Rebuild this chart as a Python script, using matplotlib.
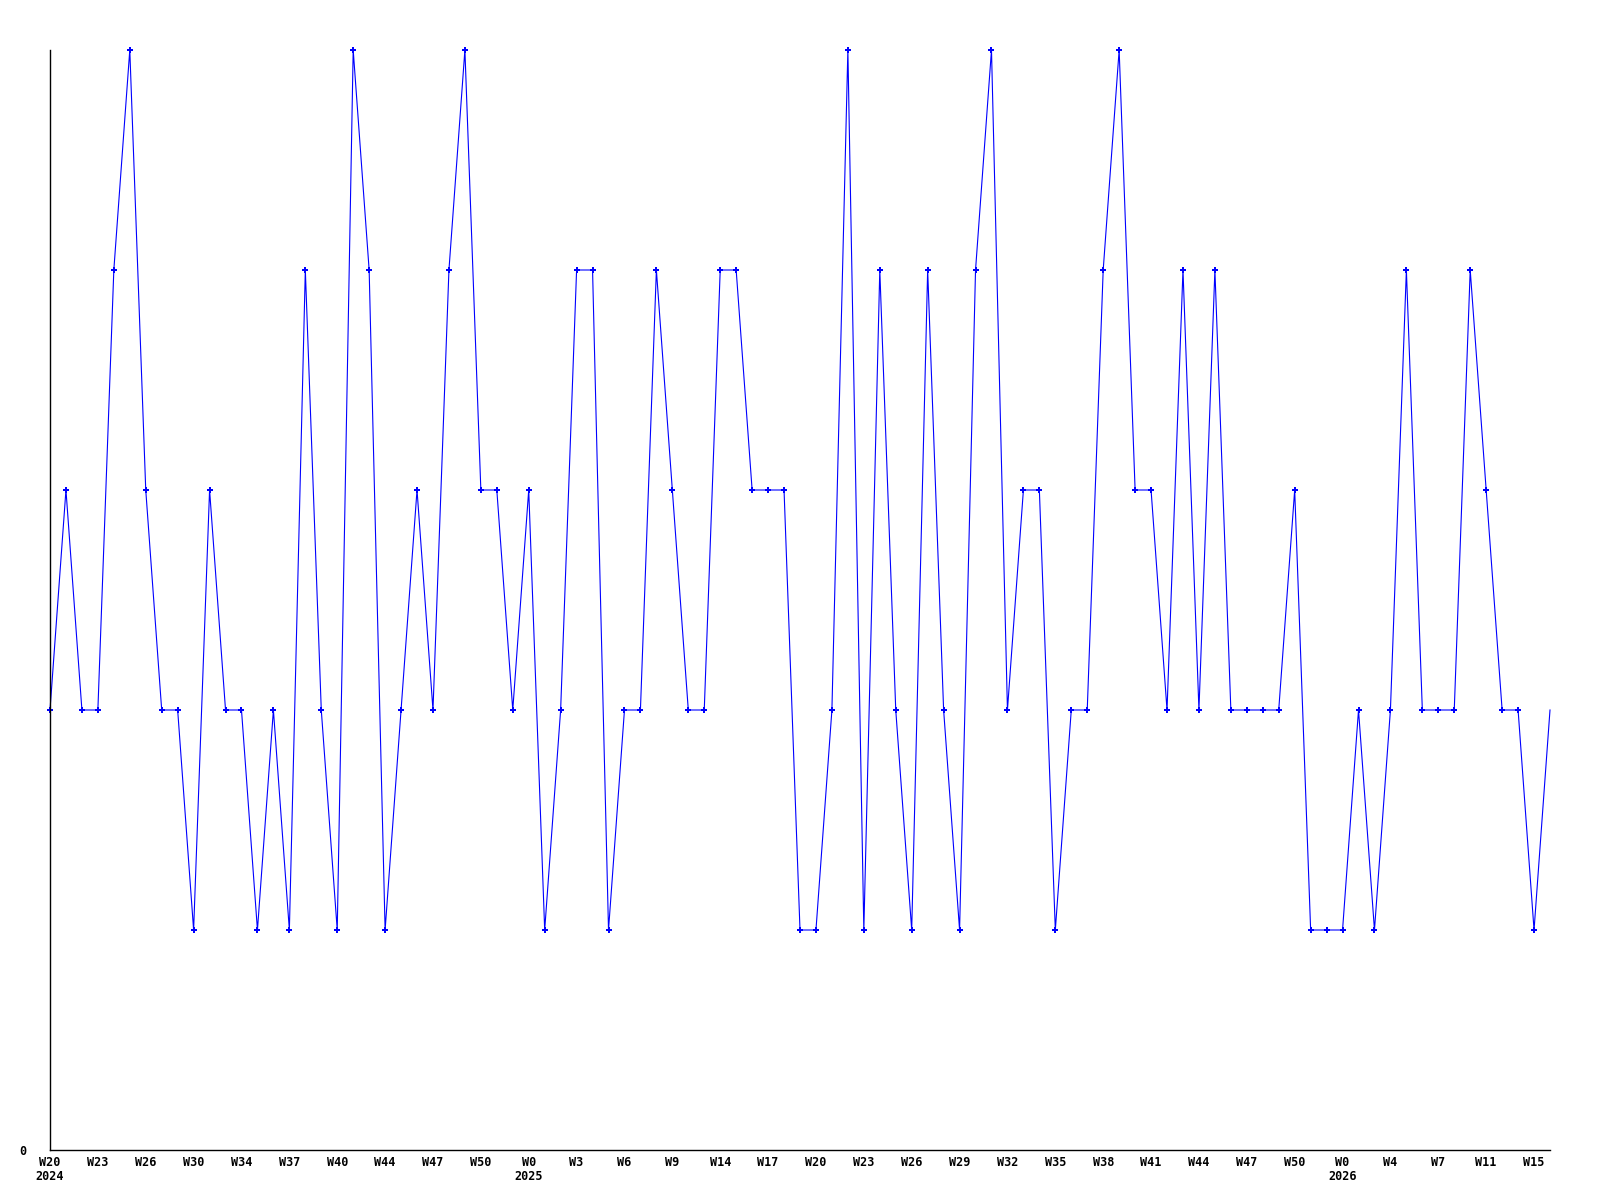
import matplotlib
matplotlib.use("Agg")
import matplotlib.pyplot as plt

# weekly values, W20 2024 .. W16 2026
values = [2, 3, 2, 2, 4, 5, 3, 2, 2, 1,
          3, 2, 2, 1, 2, 1, 4, 2, 1, 5,
          4, 1, 2, 3, 2, 4, 5, 3, 3, 2,
          3, 1, 2, 4, 4, 1, 2, 2, 4, 3,
          2, 2, 4, 4, 3, 3, 3, 1, 1, 2,
          5, 1, 4, 2, 1, 4, 2, 1, 4, 5,
          2, 3, 3, 1, 2, 2, 4, 5, 3, 3,
          2, 4, 2, 4, 2, 2, 2, 2, 3, 1,
          1, 1, 2, 1, 2, 4, 2, 2, 2, 4,
          3, 2, 2, 1, 2]

tick_labels = ["W20\n2024", "W23", "W26", "W30", "W34", "W37", "W40", "W44",
               "W47", "W50", "W0\n2025", "W3", "W6", "W9", "W14", "W17",
               "W20", "W23", "W26", "W29", "W32", "W35", "W38", "W41",
               "W44", "W47", "W50", "W0\n2026", "W4", "W7", "W11", "W15"]

x = list(range(len(values)))

fig = plt.figure(figsize=(16, 12), dpi=100)
ax = fig.add_axes([50 / 1600, 50 / 1200, 1500 / 1600, 1100 / 1200])

ax.plot(x, values, color="#0000ff", linewidth=0.8, marker="P", markersize=4.5,
        markeredgewidth=0, markevery=list(range(len(values) - 1)),
        clip_on=False)

ax.set_xlim(0, len(values) - 1)
ax.set_ylim(0, 5)
ax.set_xticks(x[::3])
ax.set_xticklabels(tick_labels, fontfamily="DejaVu Sans Mono",
                   fontweight="bold", fontsize=8.5, linespacing=1.1,
                   ha="center", va="top")
ax.set_yticks([0])
ax.set_yticklabels(["0"], fontfamily="DejaVu Sans Mono", fontweight="bold",
                   fontsize=8.5)
ax.tick_params(axis="x", length=0, pad=4)
ax.tick_params(axis="y", length=0, pad=17)

for s in ["top", "right"]:
    ax.spines[s].set_visible(False)
for s in ["left", "bottom"]:
    ax.spines[s].set_linewidth(1.0)

fig.savefig("out.png", dpi=100)
